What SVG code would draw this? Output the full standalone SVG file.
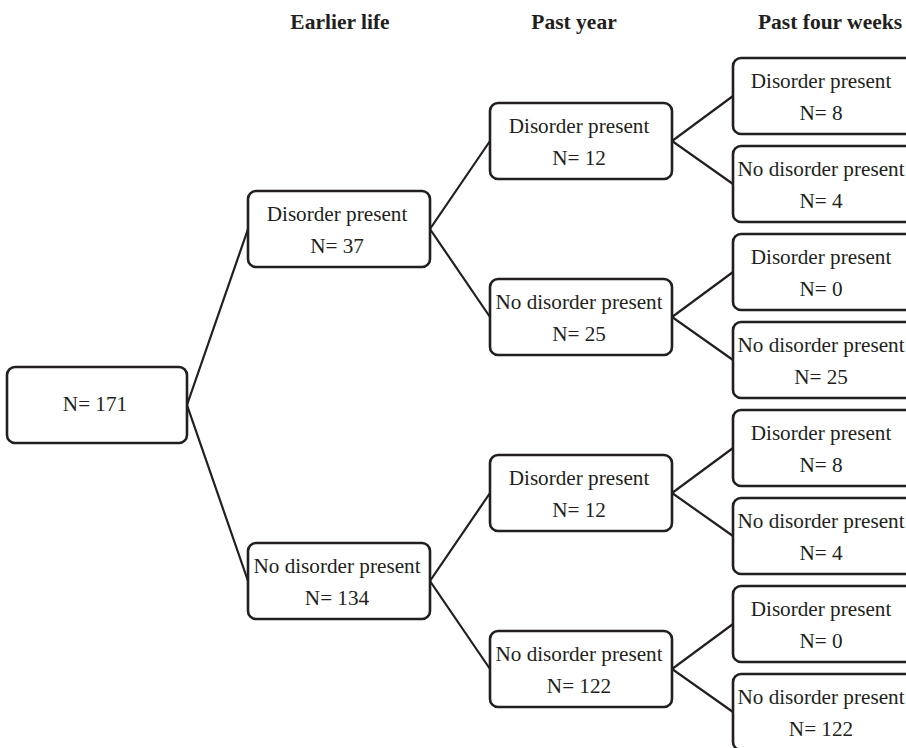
<svg xmlns="http://www.w3.org/2000/svg" width="906" height="748" viewBox="0 0 906 748">
<style>
.box{fill:#fff;stroke:#231f20;stroke-width:2.6}
.t{font-family:"Liberation Serif","Times New Roman",serif;font-size:21.2px;fill:#231f20;text-anchor:middle}
.h{font-family:"Liberation Serif","Times New Roman",serif;font-size:21.5px;font-weight:bold;fill:#231f20;text-anchor:middle}
.c{stroke:#231f20;stroke-width:2.2;fill:none}
</style>
<rect width="906" height="748" fill="#fff"/>
<g id="headers">
<text class="h" x="340" y="29">Earlier life</text>
<text class="h" x="574" y="29">Past year</text>
<text class="h" x="830" y="29">Past four weeks</text>
</g>
<g id="connectors">
<polyline class="c" points="248,229 187,405 248,581"/>
<polyline class="c" points="490,141 430,229 490,317"/>
<polyline class="c" points="490,493 430,581 490,669"/>
<polyline class="c" points="733,96 672,141 733,184"/>
<polyline class="c" points="733,272 672,317 733,360"/>
<polyline class="c" points="733,448 672,493 733,536"/>
<polyline class="c" points="733,624 672,669 733,712"/>
</g>
<g id="root"><rect class="box" x="7" y="367" width="180" height="76" rx="8"/><text class="t" x="95" y="411">N= 171</text></g>
<g id="earlier-yes"><rect class="box" x="248" y="191" width="182" height="76" rx="8"/><text class="t" x="337" y="221">Disorder present</text><text class="t" x="337" y="253">N= 37</text></g>
<g id="earlier-no"><rect class="box" x="248" y="543" width="182" height="76" rx="8"/><text class="t" x="337" y="573">No disorder present</text><text class="t" x="337" y="605">N= 134</text></g>
<g id="year-yes-1"><rect class="box" x="490" y="103" width="182" height="76" rx="8"/><text class="t" x="579" y="133">Disorder present</text><text class="t" x="579" y="165">N= 12</text></g>
<g id="year-no-1"><rect class="box" x="490" y="279" width="182" height="76" rx="8"/><text class="t" x="579" y="309">No disorder present</text><text class="t" x="579" y="341">N= 25</text></g>
<g id="year-yes-2"><rect class="box" x="490" y="455" width="182" height="76" rx="8"/><text class="t" x="579" y="485">Disorder present</text><text class="t" x="579" y="517">N= 12</text></g>
<g id="year-no-2"><rect class="box" x="490" y="631" width="182" height="76" rx="8"/><text class="t" x="579" y="661">No disorder present</text><text class="t" x="579" y="693">N= 122</text></g>
<g id="weeks-1"><rect class="box" x="733" y="58" width="182" height="76" rx="8"/><text class="t" x="821" y="88">Disorder present</text><text class="t" x="821" y="120">N= 8</text></g>
<g id="weeks-2"><rect class="box" x="733" y="146" width="182" height="76" rx="8"/><text class="t" x="821" y="176">No disorder present</text><text class="t" x="821" y="208">N= 4</text></g>
<g id="weeks-3"><rect class="box" x="733" y="234" width="182" height="76" rx="8"/><text class="t" x="821" y="264">Disorder present</text><text class="t" x="821" y="296">N= 0</text></g>
<g id="weeks-4"><rect class="box" x="733" y="322" width="182" height="76" rx="8"/><text class="t" x="821" y="352">No disorder present</text><text class="t" x="821" y="384">N= 25</text></g>
<g id="weeks-5"><rect class="box" x="733" y="410" width="182" height="76" rx="8"/><text class="t" x="821" y="440">Disorder present</text><text class="t" x="821" y="472">N= 8</text></g>
<g id="weeks-6"><rect class="box" x="733" y="498" width="182" height="76" rx="8"/><text class="t" x="821" y="528">No disorder present</text><text class="t" x="821" y="560">N= 4</text></g>
<g id="weeks-7"><rect class="box" x="733" y="586" width="182" height="76" rx="8"/><text class="t" x="821" y="616">Disorder present</text><text class="t" x="821" y="648">N= 0</text></g>
<g id="weeks-8"><rect class="box" x="733" y="674" width="182" height="76" rx="8"/><text class="t" x="821" y="704">No disorder present</text><text class="t" x="821" y="736">N= 122</text></g>
</svg>
